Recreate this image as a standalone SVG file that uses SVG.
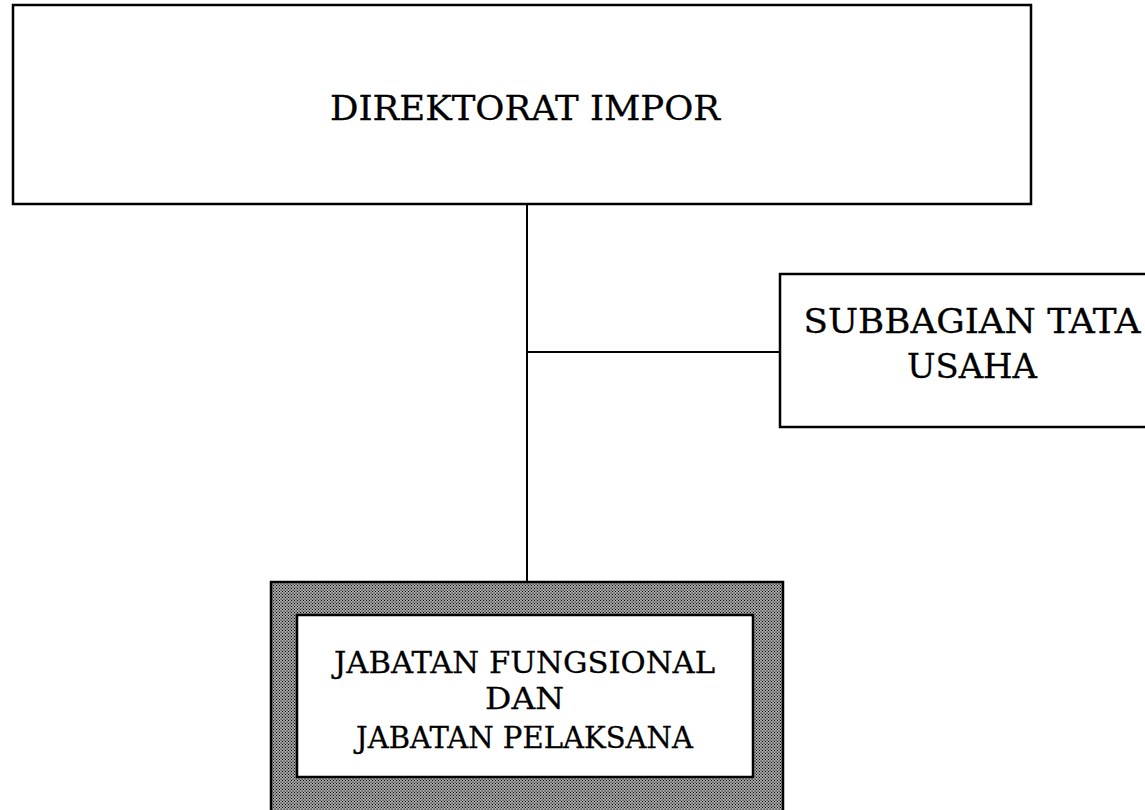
<svg xmlns="http://www.w3.org/2000/svg" width="1145" height="810" viewBox="0 0 1145 810">
<style>
.box{fill:#fff;stroke:#000;stroke-width:2.5}
.t{font-family:"DejaVu Serif","Liberation Serif",serif;fill:#000;stroke:#000;stroke-width:0.3;text-anchor:middle}
.ln{stroke:#000;stroke-width:2;fill:none}
</style>
<defs>
<pattern id="dots" width="3" height="3" patternUnits="userSpaceOnUse">
<rect width="3" height="3" fill="#a8a8a8"/>
<rect width="1" height="1" fill="#000"/>
<rect x="1.5" y="1.5" width="1.2" height="1.2" fill="#222"/>
</pattern>
</defs>
<g id="connectors">
<line class="ln" x1="527" y1="204" x2="527" y2="582"/>
<line class="ln" x1="527" y1="352" x2="780" y2="352"/>
</g>
<g id="direktorat">
<rect class="box" x="13" y="5" width="1018" height="199"/>
<text class="t" x="525" y="120" font-size="33" textLength="390" lengthAdjust="spacingAndGlyphs">DIREKTORAT IMPOR</text>
</g>
<g id="subbagian">
<rect class="box" x="780" y="274" width="380" height="153"/>
<text class="t" x="972" y="333" font-size="33" textLength="337" lengthAdjust="spacingAndGlyphs">SUBBAGIAN TATA</text>
<text class="t" x="972" y="378" font-size="33" textLength="130" lengthAdjust="spacingAndGlyphs">USAHA</text>
</g>
<g id="jabatan">
<rect x="271" y="582" width="512" height="240" fill="url(#dots)" stroke="#000" stroke-width="2.5"/>
<rect class="box" x="297" y="615" width="456" height="162"/>
<text class="t" x="524.5" y="673" font-size="30" textLength="381" lengthAdjust="spacingAndGlyphs">JABATAN FUNGSIONAL</text>
<text class="t" x="524.5" y="709" font-size="30" textLength="79" lengthAdjust="spacingAndGlyphs">DAN</text>
<text class="t" x="524.5" y="748" font-size="30" textLength="337" lengthAdjust="spacingAndGlyphs">JABATAN PELAKSANA</text>
</g>
</svg>
